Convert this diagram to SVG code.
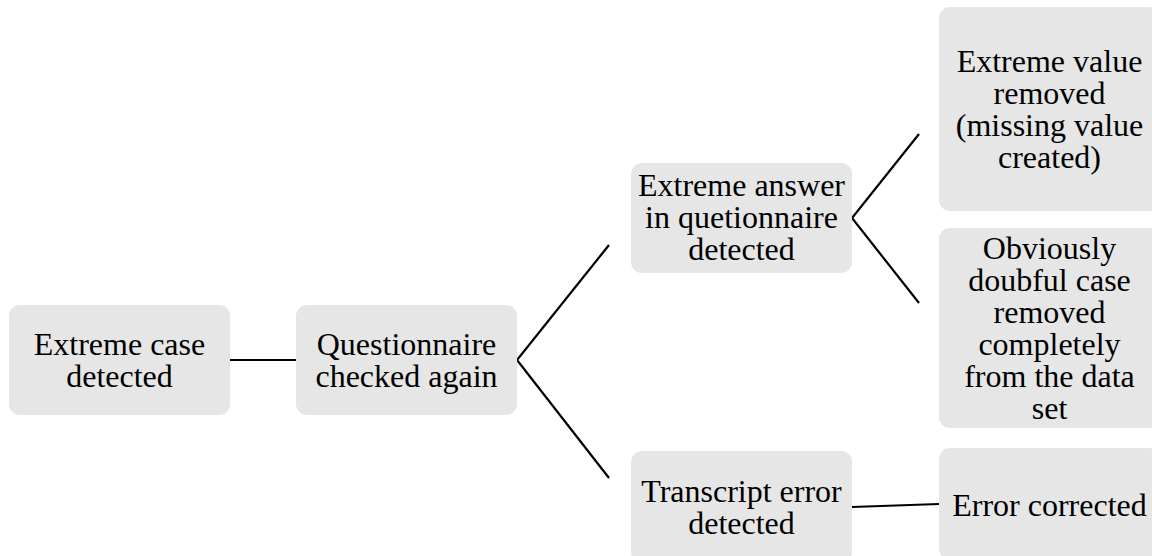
<svg xmlns="http://www.w3.org/2000/svg" width="1152" height="556" viewBox="0 0 1152 556">
<style>
.box{fill:#e6e6e6;}
.t{font-family:"Liberation Serif","Times New Roman",serif;font-size:32px;fill:#000;text-anchor:middle;}
.c{stroke:#000;stroke-width:2.2;fill:none;}
</style>
<rect width="1152" height="556" fill="#fff"/>
<g id="connectors">
<line class="c" x1="230" y1="360" x2="296" y2="360"/>
<polyline class="c" points="609,245 517,360 609,478"/>
<polyline class="c" points="919,134 852,218 919,303"/>
<line class="c" x1="852" y1="507" x2="939" y2="504"/>
</g>
<g id="n1">
<rect class="box" x="9" y="305" width="221" height="110" rx="11"/>
<text class="t" x="119.5" y="355">Extreme case</text>
<text class="t" x="119.5" y="387">detected</text>
</g>
<g id="n2">
<rect class="box" x="296" y="305" width="221" height="110" rx="11"/>
<text class="t" x="406.5" y="355">Questionnaire</text>
<text class="t" x="406.5" y="387">checked again</text>
</g>
<g id="n3">
<rect class="box" x="631" y="163" width="221" height="110" rx="11"/>
<text class="t" x="741.5" y="196">Extreme answer</text>
<text class="t" x="741.5" y="228">in quetionnaire</text>
<text class="t" x="741.5" y="260">detected</text>
</g>
<g id="n4">
<rect class="box" x="939" y="7" width="221" height="204" rx="11"/>
<text class="t" x="1049.5" y="72">Extreme value</text>
<text class="t" x="1049.5" y="104">removed</text>
<text class="t" x="1049.5" y="136">(missing value</text>
<text class="t" x="1049.5" y="168">created)</text>
</g>
<g id="n5">
<rect class="box" x="939" y="228" width="221" height="200" rx="11"/>
<text class="t" x="1049.5" y="259">Obviously</text>
<text class="t" x="1049.5" y="291">doubful case</text>
<text class="t" x="1049.5" y="323">removed</text>
<text class="t" x="1049.5" y="355">completely</text>
<text class="t" x="1049.5" y="387">from the data</text>
<text class="t" x="1049.5" y="419">set</text>
</g>
<g id="n6">
<rect class="box" x="631" y="451" width="221" height="112" rx="11"/>
<text class="t" x="741.5" y="502">Transcript error</text>
<text class="t" x="741.5" y="534">detected</text>
</g>
<g id="n7">
<rect class="box" x="939" y="448" width="221" height="112" rx="11"/>
<text class="t" x="1049.5" y="516">Error corrected</text>
</g>
</svg>
